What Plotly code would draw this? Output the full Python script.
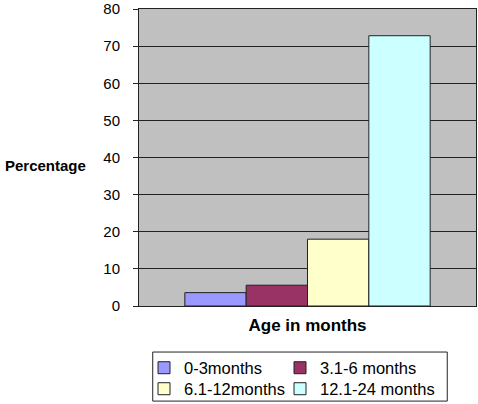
import plotly.graph_objects as go

category = ["Age in months"]
series_names = ["0-3months", "3.1-6 months", "6.1-12months", "12.1-24 months"]
series_values = [3.6, 5.6, 18.0, 72.8]
series_colors = ["#9999ff", "#993366", "#ffffcc", "#ccffff"]
y_ticks = [0, 10, 20, 30, 40, 50, 60, 70, 80]

FONT = "Liberation Sans, Arial, sans-serif"
W, H = 478, 404

legend_ids = ["legend", "legend2", "legend3", "legend4"]
# legend entry anchor points (container pixels): col x, row y
legend_pos = [(144, 368), (280, 368), (144, 389), (280, 389)]

fig = go.Figure()
for name, val, col, lg in zip(series_names, series_values, series_colors, legend_ids):
    fig.add_trace(go.Bar(
        x=category, y=[val], name=name,
        marker=dict(color=col, line=dict(color="#222222", width=1)),
        legend=lg,
    ))

legends = {}
for lg, (px, py) in zip(legend_ids, legend_pos):
    legends[lg] = dict(
        orientation="h", xanchor="left", yanchor="middle",
        xref="container", yref="container",
        x=px / W, y=1 - py / H,
        font=dict(family=FONT, size=16.5, color="black"),
        bgcolor="rgba(0,0,0,0)", itemwidth=30, borderwidth=0,
    )

fig.update_layout(
    width=W, height=H,
    margin=dict(l=139, r=2, t=9, b=98, autoexpand=False),
    paper_bgcolor="white", plot_bgcolor="#c0c0c0",
    font=dict(family=FONT, size=15, color="black"),
    barmode="group", bargap=0.272, bargroupgap=0,
    showlegend=True,
    xaxis=dict(
        showticklabels=False, showline=True, linecolor="#222222", linewidth=1,
        mirror=True, showgrid=False, ticks="",
        title=dict(text="<b>Age in months</b>", font=dict(size=17, family=FONT), standoff=13),
    ),
    yaxis=dict(
        range=[0, 80], tickvals=y_ticks, ticks="outside", ticklen=5,
        tickcolor="#222222", showline=True, linecolor="#222222", linewidth=1,
        mirror=True, showgrid=True, gridcolor="#222222", gridwidth=1,
        tickfont=dict(size=15, family=FONT), zeroline=False,
        ticklabelstandoff=10,
    ),
    annotations=[dict(
        text="<b>Percentage</b>", xref="paper", yref="paper",
        x=-0.1525, y=0.472, xanchor="right", yanchor="middle",
        showarrow=False, font=dict(size=15, family=FONT),
    )],
    shapes=[dict(
        type="rect", xref="paper", yref="paper",
        x0=(153 - 139.3) / 336.4, x1=(447 - 139.3) / 336.4,
        y0=(306 - 352) / 296.7, y1=(306 - 401) / 296.7,
        line=dict(color="#222222", width=1), fillcolor="rgba(0,0,0,0)",
    )],
    **legends,
)

fig.write_html("out.html", config={"displayModeBar": False},
               post_script="document.body.style.margin='0';")
